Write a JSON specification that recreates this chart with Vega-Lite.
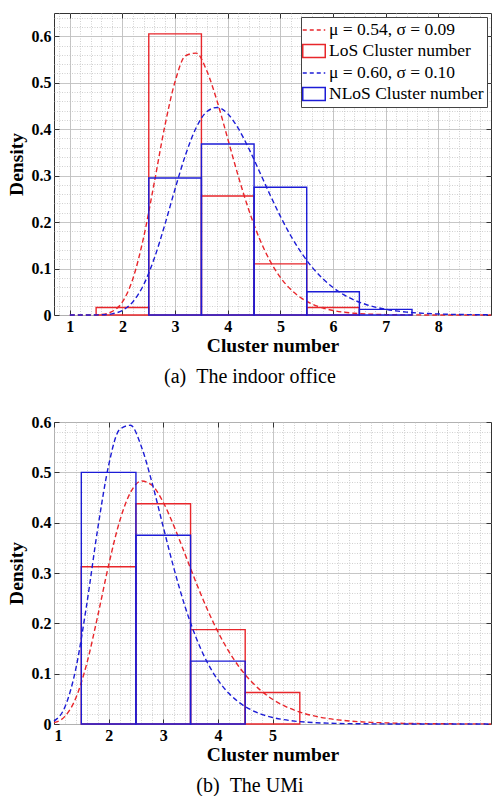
{
  "$schema": "https://vega.github.io/schema/vega-lite/v6.json",
  "padding": {"left": 5, "top": 12, "right": 1, "bottom": 0},
  "background": "white",
  "spacing": 26,
  "config": {
    "font": "Liberation Serif",
    "view": {"stroke": "#333", "strokeWidth": 1},
    "axis": {"labelColor": "black", "titleColor": "black", "tickColor": "#333", "labelFont": "Liberation Serif", "titleFont": "Liberation Serif"}
  },
  "datasets": {
    "c1": [
      {"x": 1.0, "r": 0, "b": 0}, {"x": 1.2, "r": 0, "b": 0}, {"x": 1.4, "r": 0.0001, "b": 0},
      {"x": 1.6, "r": 0.0011, "b": 0.0004}, {"x": 1.8, "r": 0.0072, "b": 0.0025}, {"x": 2.0, "r": 0.0283, "b": 0.0099},
      {"x": 2.2, "r": 0.0786, "b": 0.0286}, {"x": 2.4, "r": 0.1659, "b": 0.0645}, {"x": 2.6, "r": 0.2821, "b": 0.1203},
      {"x": 2.8, "r": 0.4039, "b": 0.1924}, {"x": 3.0, "r": 0.5027, "b": 0.2715}, {"x": 3.2, "r": 0.5581, "b": 0.3453},
      {"x": 3.4, "r": 0.5637, "b": 0.403}, {"x": 3.6, "r": 0.5261, "b": 0.4375}, {"x": 3.8, "r": 0.4594, "b": 0.4467},
      {"x": 4.0, "r": 0.3794, "b": 0.4331}, {"x": 4.2, "r": 0.2988, "b": 0.4015}, {"x": 4.4, "r": 0.226, "b": 0.3583},
      {"x": 4.6, "r": 0.1651, "b": 0.3093}, {"x": 4.8, "r": 0.1171, "b": 0.2595}, {"x": 5.0, "r": 0.0809, "b": 0.2124},
      {"x": 5.2, "r": 0.0547, "b": 0.17}, {"x": 5.4, "r": 0.0363, "b": 0.1336}, {"x": 5.6, "r": 0.0237, "b": 0.1032},
      {"x": 5.8, "r": 0.0152, "b": 0.0786}, {"x": 6.0, "r": 0.0097, "b": 0.0591}, {"x": 6.2, "r": 0.0061, "b": 0.0439},
      {"x": 6.4, "r": 0.0038, "b": 0.0323}, {"x": 6.6, "r": 0.0023, "b": 0.0236}, {"x": 6.8, "r": 0.0014, "b": 0.0171},
      {"x": 7.0, "r": 0.0009, "b": 0.0123}, {"x": 7.2, "r": 0.0005, "b": 0.0088}, {"x": 7.4, "r": 0.0003, "b": 0.0062},
      {"x": 7.6, "r": 0.0002, "b": 0.0044}, {"x": 7.8, "r": 0.0001, "b": 0.0031}, {"x": 8.0, "r": 0.0001, "b": 0.0022},
      {"x": 8.2, "r": 0, "b": 0.0015}, {"x": 8.4, "r": 0, "b": 0.0011}, {"x": 8.6, "r": 0, "b": 0.0008},
      {"x": 8.8, "r": 0, "b": 0.0005}, {"x": 9.0, "r": 0, "b": 0.0004}
    ],
    "h1": [
      {"lo": 1.5, "hi": 2.5, "d": 0.016, "s": "LoS"},
      {"lo": 2.5, "hi": 3.5, "d": 0.605, "s": "LoS"},
      {"lo": 3.5, "hi": 4.5, "d": 0.256, "s": "LoS"},
      {"lo": 4.5, "hi": 5.5, "d": 0.11, "s": "LoS"},
      {"lo": 5.5, "hi": 6.5, "d": 0.016, "s": "LoS"},
      {"lo": 2.5, "hi": 3.5, "d": 0.295, "s": "NLoS"},
      {"lo": 3.5, "hi": 4.5, "d": 0.368, "s": "NLoS"},
      {"lo": 4.5, "hi": 5.5, "d": 0.275, "s": "NLoS"},
      {"lo": 5.5, "hi": 6.5, "d": 0.05, "s": "NLoS"},
      {"lo": 6.5, "hi": 7.5, "d": 0.012, "s": "NLoS"}
    ],
    "c2": [
      {"x": 1.0, "r": 0.0026, "b": 0.0056}, {"x": 1.2, "r": 0.0152, "b": 0.0337}, {"x": 1.4, "r": 0.0516, "b": 0.11},
      {"x": 1.6, "r": 0.1201, "b": 0.2381}, {"x": 1.8, "r": 0.2143, "b": 0.3876}, {"x": 2.0, "r": 0.3155, "b": 0.5138},
      {"x": 2.2, "r": 0.4024, "b": 0.5849}, {"x": 2.4, "r": 0.46, "b": 0.5935}, {"x": 2.6, "r": 0.4828, "b": 0.551},
      {"x": 2.8, "r": 0.4737, "b": 0.4773}, {"x": 3.0, "r": 0.4404, "b": 0.3915}, {"x": 3.2, "r": 0.3921, "b": 0.3073},
      {"x": 3.4, "r": 0.337, "b": 0.233}, {"x": 3.6, "r": 0.2814, "b": 0.1717}, {"x": 3.8, "r": 0.2294, "b": 0.1237},
      {"x": 4.0, "r": 0.1834, "b": 0.0875}, {"x": 4.2, "r": 0.1442, "b": 0.0609}, {"x": 4.4, "r": 0.1119, "b": 0.0419},
      {"x": 4.6, "r": 0.0859, "b": 0.0286}, {"x": 4.8, "r": 0.0653, "b": 0.0193}, {"x": 5.0, "r": 0.0492, "b": 0.013},
      {"x": 5.2, "r": 0.0369, "b": 0.0087}, {"x": 5.4, "r": 0.0275, "b": 0.0058}, {"x": 5.6, "r": 0.0204, "b": 0.0038},
      {"x": 5.8, "r": 0.0151, "b": 0.0025}, {"x": 6.0, "r": 0.0111, "b": 0.0017}, {"x": 6.2, "r": 0.0082, "b": 0.0011},
      {"x": 6.4, "r": 0.006, "b": 0.0007}, {"x": 6.6, "r": 0.0044, "b": 0.0005}, {"x": 6.8, "r": 0.0032, "b": 0.0003},
      {"x": 7.0, "r": 0.0024, "b": 0.0002}, {"x": 7.2, "r": 0.0017, "b": 0.0001}, {"x": 7.4, "r": 0.0013, "b": 0.0001},
      {"x": 7.6, "r": 0.0009, "b": 0.0001}, {"x": 7.8, "r": 0.0007, "b": 0}, {"x": 8.0, "r": 0.0005, "b": 0},
      {"x": 8.2, "r": 0.0004, "b": 0}, {"x": 8.4, "r": 0.0003, "b": 0}, {"x": 8.6, "r": 0.0002, "b": 0},
      {"x": 8.8, "r": 0.0002, "b": 0}, {"x": 9.0, "r": 0.0001, "b": 0}
    ],
    "h2": [
      {"lo": 1.5, "hi": 2.5, "d": 0.3125, "s": "LoS"},
      {"lo": 2.5, "hi": 3.5, "d": 0.4375, "s": "LoS"},
      {"lo": 3.5, "hi": 4.5, "d": 0.1875, "s": "LoS"},
      {"lo": 4.5, "hi": 5.5, "d": 0.0625, "s": "LoS"},
      {"lo": 1.5, "hi": 2.5, "d": 0.5, "s": "NLoS"},
      {"lo": 2.5, "hi": 3.5, "d": 0.375, "s": "NLoS"},
      {"lo": 3.5, "hi": 4.5, "d": 0.125, "s": "NLoS"}
    ]
  },
  "vconcat": [
    {
      "width": 437,
      "height": 302,
      "title": {"text": "(a)\u2002The indoor office", "orient": "bottom", "frame": "bounds", "anchor": "middle", "font": "Liberation Serif", "fontSize": 20, "fontWeight": "normal", "color": "black", "offset": 12},
      "encoding": {
        "color": {
          "field": "s", "type": "nominal",
          "scale": {"domain": ["r", "LoS", "b", "NLoS"], "range": ["#e8262b", "#e8262b", "#1c1cd6", "#1c1cd6"]},
          "legend": {
            "title": null, "orient": "top-right", "offset": 4, "direction": "vertical",
            "fillColor": "white", "strokeColor": "#444", "padding": 3,
            "labelFont": "Liberation Serif", "labelFontSize": 17.5, "labelColor": "black", "labelOffset": 5, "labelLimit": 300,
            "symbolSize": 324, "rowPadding": 2, "symbolStrokeWidth": 1.5,
            "labelExpr": "datum.value == 'r' ? 'μ = 0.54, σ = 0.09' : datum.value == 'b' ? 'μ = 0.60, σ = 0.10' : datum.value + ' Cluster number'",
            "encode": {"symbols": {"update": {
              "shape": {"signal": "(datum.value == 'r' || datum.value == 'b') ? 'M-1.25,0H1.25' : 'M-1.25,-0.72H1.25V0.72H-1.25Z'"},
              "strokeDash": {"signal": "(datum.value == 'r' || datum.value == 'b') ? [4, 3] : [1, 0]"},
              "fill": {"value": "transparent"},
              "strokeWidth": {"value": 1.5}
            }}}
          }
        }
      },
      "layer": [
        {
          "data": {"name": "c1"},
          "transform": [{"fold": ["r", "b"], "as": ["s", "d"]}, {"filter": {"field": "s", "equal": "r"}}],
          "mark": {"type": "line", "strokeDash": [5, 3], "strokeWidth": 1.4, "interpolate": "monotone"},
          "encoding": {
            "x": {"field": "x", "type": "quantitative", "scale": {"domain": [0.7, 9], "nice": false, "zero": false},
              "axis": {"orient": "bottom", "values": [0.8, 1, 1.2, 1.4, 1.6, 1.8, 2, 2.2, 2.4, 2.6, 2.8, 3, 3.2, 3.4, 3.6, 3.8, 4, 4.2, 4.4, 4.6, 4.8, 5, 5.2, 5.4, 5.6, 5.8, 6, 6.2, 6.4, 6.6, 6.8, 7, 7.2, 7.4, 7.6, 7.8, 8, 8.2, 8.4, 8.6, 8.8], "grid": true, "gridColor": "#c4c4c4", "gridDash": [1, 1.5], "gridWidth": 0.8, "ticks": false, "labels": false, "domain": false, "title": null}},
            "y": {"field": "d", "type": "quantitative", "scale": {"domain": [0, 0.65], "nice": false},
              "axis": {"orient": "left", "values": [0.02, 0.04, 0.06, 0.08, 0.12, 0.14, 0.16, 0.18, 0.22, 0.24, 0.26, 0.28, 0.32, 0.34, 0.36, 0.38, 0.42, 0.44, 0.46, 0.48, 0.52, 0.54, 0.56, 0.58, 0.62, 0.64], "grid": true, "gridColor": "#c4c4c4", "gridDash": [1, 1.5], "gridWidth": 0.8, "ticks": false, "labels": false, "domain": false, "title": null}}
          }
        },
        {
          "data": {"name": "h1"},
          "transform": [{"filter": {"field": "s", "equal": "LoS"}}],
          "mark": {"type": "rect", "filled": false, "strokeWidth": 1.4},
          "encoding": {
            "x": {"field": "lo", "type": "quantitative",
              "axis": {"orient": "bottom", "values": [1, 2, 3, 4, 5, 6, 7, 8], "grid": true, "gridColor": "#c0c0c0", "gridWidth": 0.9, "tickSize": -5, "labelFontSize": 16, "labelFontWeight": "bold", "labelPadding": 8, "domain": false, "title": "Cluster number", "titleFontSize": 19.5, "titleFontWeight": "bold", "titlePadding": 2}},
            "x2": {"field": "hi"},
            "y": {"field": "d", "type": "quantitative",
              "axis": {"orient": "left", "values": [0, 0.1, 0.2, 0.3, 0.4, 0.5, 0.6], "format": "~g", "grid": true, "gridColor": "#c0c0c0", "gridWidth": 0.9, "tickSize": -5, "labelFontSize": 16, "labelFontWeight": "bold", "labelPadding": 8, "domain": false, "title": "Density", "titleFontSize": 19.5, "titleFontWeight": "bold", "titlePadding": 5}},
            "y2": {"datum": 0}
          }
        },
        {
          "data": {"name": "c1"},
          "transform": [{"fold": ["r", "b"], "as": ["s", "d"]}, {"filter": {"field": "s", "equal": "b"}}],
          "mark": {"type": "line", "strokeDash": [5, 3], "strokeWidth": 1.4, "interpolate": "monotone"},
          "encoding": {
            "x": {"field": "x", "type": "quantitative",
              "axis": {"orient": "top", "values": [1, 2, 3, 4, 5, 6, 7, 8], "grid": false, "tickSize": -5, "labels": false, "domain": false, "title": null}},
            "y": {"field": "d", "type": "quantitative",
              "axis": {"orient": "right", "values": [0, 0.1, 0.2, 0.3, 0.4, 0.5, 0.6], "grid": false, "tickSize": -5, "labels": false, "domain": false, "title": null}}
          }
        },
        {
          "data": {"name": "h1"},
          "transform": [{"filter": {"field": "s", "equal": "NLoS"}}],
          "mark": {"type": "rect", "filled": false, "strokeWidth": 1.4},
          "encoding": {
            "x": {"field": "lo", "type": "quantitative", "axis": null},
            "x2": {"field": "hi"},
            "y": {"field": "d", "type": "quantitative", "axis": null},
            "y2": {"datum": 0}
          }
        }
      ],
      "resolve": {"axis": {"x": "independent", "y": "independent"}}
    },
    {
      "width": 437,
      "height": 302,
      "title": {"text": "(b)\u2002The UMi", "orient": "bottom", "frame": "bounds", "anchor": "middle", "font": "Liberation Serif", "fontSize": 20, "fontWeight": "normal", "color": "black", "offset": 12},
      "encoding": {
        "color": {
          "field": "s", "type": "nominal",
          "scale": {"domain": ["r", "LoS", "b", "NLoS"], "range": ["#e8262b", "#e8262b", "#1c1cd6", "#1c1cd6"]},
          "legend": {
            "title": null, "orient": "top-right", "offset": 4, "direction": "vertical",
            "fillColor": "white", "strokeColor": "#444", "padding": 3,
            "labelFont": "Liberation Serif", "labelFontSize": 17.5, "labelColor": "black", "labelOffset": 5, "labelLimit": 300,
            "symbolSize": 324, "rowPadding": 2, "symbolStrokeWidth": 1.5,
            "labelExpr": "datum.value == 'r' ? 'μ = 0.46, σ = 0.13' : datum.value == 'b' ? 'μ = 0.40, σ = 0.12' : datum.value + ' Cluster number'",
            "encode": {"symbols": {"update": {
              "shape": {"signal": "(datum.value == 'r' || datum.value == 'b') ? 'M-1.25,0H1.25' : 'M-1.25,-0.72H1.25V0.72H-1.25Z'"},
              "strokeDash": {"signal": "(datum.value == 'r' || datum.value == 'b') ? [4, 3] : [1, 0]"},
              "fill": {"value": "transparent"},
              "strokeWidth": {"value": 1.5}
            }}}
          }
        }
      },
      "layer": [
        {
          "data": {"name": "c2"},
          "transform": [{"fold": ["r", "b"], "as": ["s", "d"]}, {"filter": {"field": "s", "equal": "r"}}],
          "mark": {"type": "line", "strokeDash": [5, 3], "strokeWidth": 1.4, "interpolate": "monotone"},
          "encoding": {
            "x": {"field": "x", "type": "quantitative", "scale": {"domain": [1, 9], "nice": false, "zero": false},
              "axis": {"orient": "bottom", "values": [1.2, 1.4, 1.6, 1.8, 2.2, 2.4, 2.6, 2.8, 3.2, 3.4, 3.6, 3.8, 4.2, 4.4, 4.6, 4.8, 5.2, 5.4, 5.6, 5.8, 6, 6.2, 6.4, 6.6, 6.8, 7, 7.2, 7.4, 7.6, 7.8, 8, 8.2, 8.4, 8.6, 8.8], "grid": true, "gridColor": "#c4c4c4", "gridDash": [1, 1.5], "gridWidth": 0.8, "ticks": false, "labels": false, "domain": false, "title": null}},
            "y": {"field": "d", "type": "quantitative", "scale": {"domain": [0, 0.6], "nice": false},
              "axis": {"orient": "left", "values": [0.02, 0.04, 0.06, 0.08, 0.12, 0.14, 0.16, 0.18, 0.22, 0.24, 0.26, 0.28, 0.32, 0.34, 0.36, 0.38, 0.42, 0.44, 0.46, 0.48, 0.52, 0.54, 0.56, 0.58], "grid": true, "gridColor": "#c4c4c4", "gridDash": [1, 1.5], "gridWidth": 0.8, "ticks": false, "labels": false, "domain": false, "title": null}}
          }
        },
        {
          "data": {"name": "h2"},
          "transform": [{"filter": {"field": "s", "equal": "LoS"}}],
          "mark": {"type": "rect", "filled": false, "strokeWidth": 1.4},
          "encoding": {
            "x": {"field": "lo", "type": "quantitative",
              "axis": {"orient": "bottom", "values": [1, 2, 3, 4, 5], "grid": true, "gridColor": "#c0c0c0", "gridWidth": 0.9, "tickSize": -5, "labelFontSize": 16, "labelFontWeight": "bold", "labelPadding": 8, "domain": false, "title": "Cluster number", "titleFontSize": 19.5, "titleFontWeight": "bold", "titlePadding": 2}},
            "x2": {"field": "hi"},
            "y": {"field": "d", "type": "quantitative",
              "axis": {"orient": "left", "values": [0, 0.1, 0.2, 0.3, 0.4, 0.5, 0.6], "format": "~g", "grid": true, "gridColor": "#c0c0c0", "gridWidth": 0.9, "tickSize": -5, "labelFontSize": 16, "labelFontWeight": "bold", "labelPadding": 8, "domain": false, "title": "Density", "titleFontSize": 19.5, "titleFontWeight": "bold", "titlePadding": 5}},
            "y2": {"datum": 0}
          }
        },
        {
          "data": {"name": "c2"},
          "transform": [{"fold": ["r", "b"], "as": ["s", "d"]}, {"filter": {"field": "s", "equal": "b"}}],
          "mark": {"type": "line", "strokeDash": [5, 3], "strokeWidth": 1.4, "interpolate": "monotone"},
          "encoding": {
            "x": {"field": "x", "type": "quantitative",
              "axis": {"orient": "top", "values": [1, 2, 3, 4, 5], "grid": false, "tickSize": -5, "labels": false, "domain": false, "title": null}},
            "y": {"field": "d", "type": "quantitative",
              "axis": {"orient": "right", "values": [0, 0.1, 0.2, 0.3, 0.4, 0.5, 0.6], "grid": false, "tickSize": -5, "labels": false, "domain": false, "title": null}}
          }
        },
        {
          "data": {"name": "h2"},
          "transform": [{"filter": {"field": "s", "equal": "NLoS"}}],
          "mark": {"type": "rect", "filled": false, "strokeWidth": 1.4},
          "encoding": {
            "x": {"field": "lo", "type": "quantitative", "axis": null},
            "x2": {"field": "hi"},
            "y": {"field": "d", "type": "quantitative", "axis": null},
            "y2": {"datum": 0}
          }
        }
      ],
      "resolve": {"axis": {"x": "independent", "y": "independent"}}
    }
  ]
}
